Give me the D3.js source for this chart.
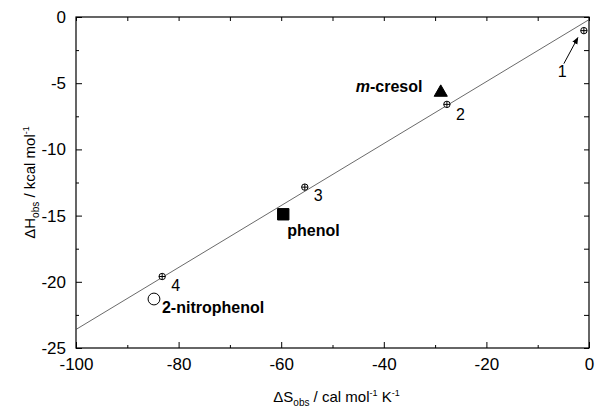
<!DOCTYPE html>
<html>
<head>
<meta charset="utf-8">
<script src="https://cdn.jsdelivr.net/npm/d3@7"></script>
<style>
  body { margin: 0; background: #fff; }
  text { font-family: "Liberation Sans", Arial, sans-serif; }
</style>
</head>
<body>
<div id="chart"></div>
<script>
// numbered points 1-4
const numLabels = ['1', '2', '3', '4'];
const numX = [-1.0, -27.7, -55.4, -83.2];
const numY = [-1.03, -6.6, -12.85, -19.6];

// named compounds
const compNames = ['m-cresol', 'phenol', '2-nitrophenol'];
const compX = [-28.9, -59.6, -84.8];
const compY = [-5.7, -14.9, -21.3];
const compShape = ['triangle', 'square', 'circle'];

// fitted line
const fitX = [-100, 0];
const fitY = [-23.6, -0.2];

const xTicks = [-100, -80, -60, -40, -20, 0];
const yTicks = [0, -5, -10, -15, -20, -25];

const width = 597, height = 409;
const margin = { left: 76, right: 8, top: 17, bottom: 61 };

const svg = d3.select('#chart').append('svg')
  .attr('width', width)
  .attr('height', height);

const x = d3.scaleLinear().domain([-100, 0]).range([margin.left, width - margin.right]);
const y = d3.scaleLinear().domain([-25, 0]).range([height - margin.bottom, margin.top]);

const x0 = x.range()[0], x1 = x.range()[1], y0 = y.range()[0], y1 = y.range()[1];

const fmt = d => String(d); // plain hyphen minus like the original

// axes (ticks inward, mirrored on top/right)
function styleAxis(g) {
  g.select('.domain').remove();
  g.selectAll('line').attr('stroke', '#000').attr('stroke-width', 1);
  g.selectAll('text').attr('font-size', 17).attr('fill', '#000');
}

const xMinor = d3.range(-90, 0, 20);
const yMinor = d3.range(-2.5, -25, -5);

svg.append('g').attr('transform', `translate(0,${y0})`)
  .call(d3.axisBottom(x).tickValues(xTicks).tickSize(-6).tickPadding(10).tickFormat(fmt))
  .call(styleAxis);
svg.append('g').attr('transform', `translate(0,${y0})`)
  .call(d3.axisBottom(x).tickValues(xMinor).tickSize(-3).tickFormat(''))
  .call(styleAxis);
svg.append('g').attr('transform', `translate(0,${y1})`)
  .call(d3.axisTop(x).tickValues(xTicks.concat(xMinor)).tickSize(-4).tickFormat(''))
  .call(styleAxis);

svg.append('g').attr('transform', `translate(${x0},0)`)
  .call(d3.axisLeft(y).tickValues(yTicks).tickSize(-6).tickPadding(10).tickFormat(fmt))
  .call(styleAxis);
svg.append('g').attr('transform', `translate(${x0},0)`)
  .call(d3.axisLeft(y).tickValues(yMinor).tickSize(-3).tickFormat(''))
  .call(styleAxis);
svg.append('g').attr('transform', `translate(${x1},0)`)
  .call(d3.axisRight(y).tickValues(yTicks.concat(yMinor)).tickSize(-5).tickFormat(''))
  .call(styleAxis);

svg.append('rect')
  .attr('x', x0).attr('y', y1)
  .attr('width', x1 - x0).attr('height', y0 - y1)
  .attr('fill', 'none').attr('stroke', '#000').attr('stroke-width', 1.2);

// fit line
svg.append('path')
  .datum(fitX.map((d, i) => [d, fitY[i]]))
  .attr('d', d3.line().x(d => x(d[0])).y(d => y(d[1])))
  .attr('fill', 'none').attr('stroke', '#444').attr('stroke-width', 0.8);

// numbered points: small circle with cross
const np = svg.selectAll('.np').data(numX.map((d, i) => ({ x: d, y: numY[i], label: numLabels[i] })))
  .enter().append('g')
  .attr('class', 'np')
  .attr('transform', d => `translate(${x(d.x)},${y(d.y)})`);
np.append('circle').attr('r', 3.2).attr('fill', '#fff').attr('stroke', '#000').attr('stroke-width', 1);
np.append('path').attr('d', 'M-3.2,0H3.2M0,-3.2V3.2').attr('stroke', '#000').attr('stroke-width', 1);

const numOffsets = [[-26, 46], [9, 16], [9, 14], [9, 14]];
np.append('text')
  .attr('x', (d, i) => numOffsets[i][0])
  .attr('y', (d, i) => numOffsets[i][1])
  .attr('font-size', 16)
  .text(d => d.label);

// arrow for point 1
svg.append('defs').append('marker')
  .attr('id', 'arr').attr('viewBox', '0 0 10 10')
  .attr('refX', 9).attr('refY', 5)
  .attr('markerWidth', 7).attr('markerHeight', 7)
  .attr('orient', 'auto')
  .append('path').attr('d', 'M0,1L10,5L0,9z').attr('fill', '#000');
svg.append('line')
  .attr('x1', x(numX[0]) - 20).attr('y1', y(numY[0]) + 33)
  .attr('x2', x(numX[0]) - 6).attr('y2', y(numY[0]) + 7)
  .attr('stroke', '#000').attr('stroke-width', 1)
  .attr('marker-end', 'url(#arr)');

// compound markers
const comp = compX.map((d, i) => ({ x: d, y: compY[i], name: compNames[i], shape: compShape[i] }));
const symType = { triangle: d3.symbolTriangle, square: d3.symbolSquare, circle: d3.symbolCircle };
const symSize = { triangle: 75, square: 130, circle: 110 };
svg.selectAll('.cp').data(comp).enter().append('path')
  .attr('class', 'cp')
  .attr('transform', d => `translate(${x(d.x)},${y(d.y)})`)
  .attr('d', d => d3.symbol().type(symType[d.shape]).size(symSize[d.shape])())
  .attr('fill', d => d.shape === 'circle' ? '#fff' : '#000')
  .attr('stroke', '#000').attr('stroke-width', 1);

// compound labels
const compOffsets = [[-85, 0], [4, 22], [8, 14]];
const cl = svg.selectAll('.cl').data(comp).enter().append('text')
  .attr('class', 'cl')
  .attr('x', (d, i) => x(d.x) + compOffsets[i][0])
  .attr('y', (d, i) => y(d.y) + compOffsets[i][1])
  .attr('font-size', 16).attr('font-weight', 'bold');
cl.each(function(d) {
  const t = d3.select(this);
  if (d.name.startsWith('m-')) {
    t.append('tspan').attr('font-style', 'italic').text('m');
    t.append('tspan').text(d.name.slice(1));
  } else {
    t.text(d.name);
  }
});

// axis titles
const xt = svg.append('text')
  .attr('x', (x0 + x1) / 2 + 4).attr('y', 402)
  .attr('text-anchor', 'middle').attr('font-size', 15);
xt.append('tspan').text('\u0394S');
xt.append('tspan').attr('font-size', 10).attr('dy', 4).text('obs');
xt.append('tspan').attr('dy', -4).text(' / cal mol');
xt.append('tspan').attr('font-size', 9).attr('dy', -6).text('-1');
xt.append('tspan').attr('dy', 6).text(' K');
xt.append('tspan').attr('font-size', 9).attr('dy', -6).text('-1');

const yt = svg.append('text')
  .attr('transform', `translate(35,${(y0 + y1) / 2}) rotate(-90)`)
  .attr('text-anchor', 'middle').attr('font-size', 15);
yt.append('tspan').text('\u0394H');
yt.append('tspan').attr('font-size', 10).attr('dy', 4).text('obs');
yt.append('tspan').attr('dy', -4).text(' / kcal mol');
yt.append('tspan').attr('font-size', 9).attr('dy', -6).text('-1');
</script>
</body>
</html>
